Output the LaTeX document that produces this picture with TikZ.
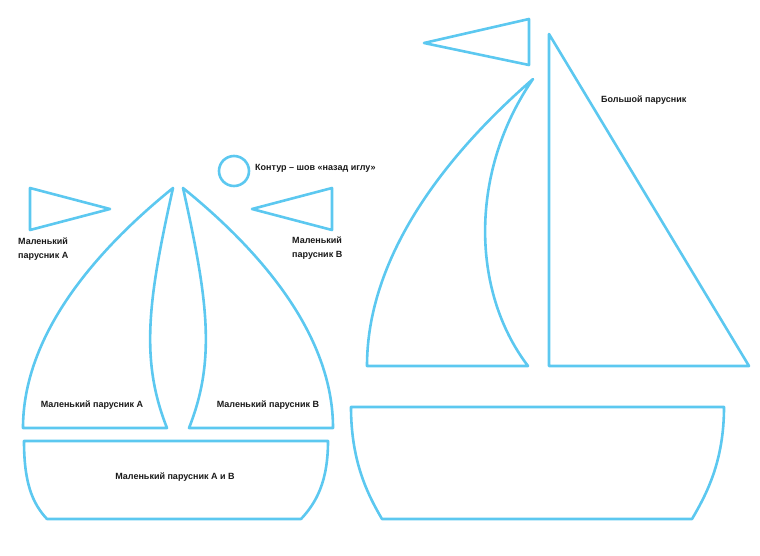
\documentclass[tikz,border=0pt]{standalone}
\usepackage{fontspec}
\setmainfont{Liberation Sans}
\definecolor{sailblue}{RGB}{92,200,240}
\begin{document}
\begin{tikzpicture}[x=1pt, y=-1pt,
    cut/.style={draw=sailblue, line width=2.6pt, line join=round},
    lbl/.style={font=\bfseries\fontsize{9}{13.5}\selectfont, inner sep=0pt, text=black!90}]
  \useasboundingbox (0,0) rectangle (760,555);
  % small boat: flags and contour mark
  \draw[cut] (30,188) -- (110,209) -- (30,230) -- cycle;
  \draw[cut] (332,188) -- (252,209) -- (332,230) -- cycle;
  \draw[cut] (234,171) circle (15);
  % small sails A and B
  \draw[cut] (173,188) .. controls (89,256) and (23,339) .. (23,428) -- (167,428)
             .. controls (140,360) and (148,300) .. (173,188) -- cycle;
  \draw[cut] (183,188) .. controls (267,256) and (333,339) .. (333,428) -- (189,428)
             .. controls (216,360) and (208,300) .. (183,188) -- cycle;
  % small hull
  \draw[cut] (24,441) -- (328,441) .. controls (328,482) and (316,503) .. (301,519)
             -- (47,519) .. controls (32,503) and (24,482) .. (24,441) -- cycle;
  % big boat
  \draw[cut] (529,19) -- (529,65) -- (424,43) -- cycle;
  \draw[cut] (533,79) .. controls (440,160) and (367,260) .. (367,366) -- (528,366)
             .. controls (470,290) and (470,170) .. (533,79) -- cycle;
  \draw[cut] (549,34) -- (749,366) -- (549,366) -- cycle;
  \draw[cut] (351,407) -- (724,407) .. controls (724,462) and (706,495) .. (692,519)
             -- (382,519) .. controls (368,495) and (351,462) .. (351,407) -- cycle;
  % labels
  \node[lbl, anchor=west] (contour) at (255,168) {Контур – шов «назад иглу»};
  \node[lbl, anchor=north west, align=left] (flagA) at (18,238) {Маленький\\парусник А};
  \node[lbl, anchor=north west, align=left] (flagB) at (292,237) {Маленький\\парусник В};
  \node[lbl] (sailA) at (92,405) {Маленький парусник А};
  \node[lbl] (sailB) at (268,405) {Маленький парусник В};
  \node[lbl] (hullAB) at (175,477) {Маленький парусник А и В};
  \node[lbl, anchor=west] (bigsail) at (601,100) {Большой парусник};
\end{tikzpicture}
\end{document}
